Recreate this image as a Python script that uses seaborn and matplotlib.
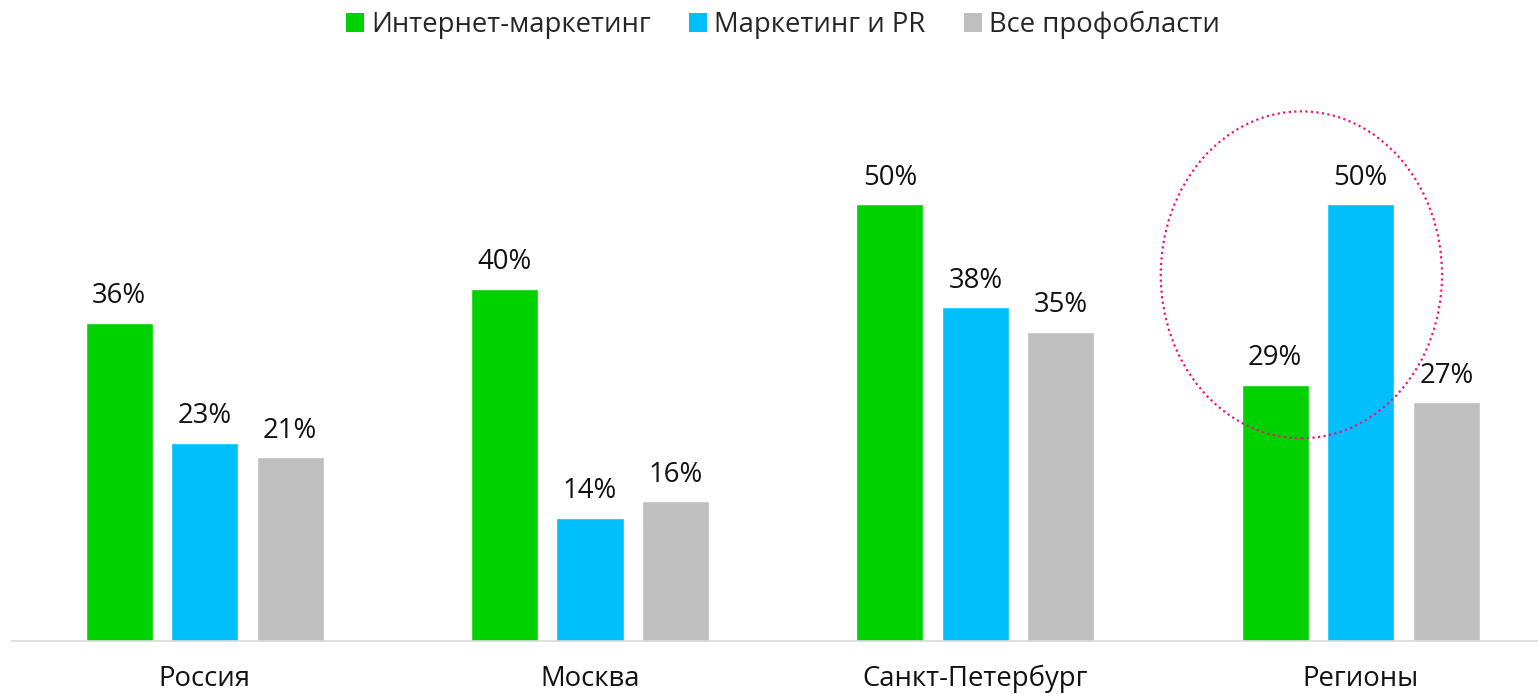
import numpy as np
import pandas as pd
import matplotlib
matplotlib.use("Agg")
import matplotlib.pyplot as plt
import seaborn as sns
from matplotlib.patches import Ellipse, Patch

# Data (labels are rounded)
regions = ['Россия', 'Москва', 'Санкт-Петербург', 'Регионы']
series = ['Интернет-маркетинг', 'Маркетинг и PR', 'Все профобласти']
internet_mkt = [36.4, 40.3, 50.0, 29.3]
mkt_pr = [22.7, 14.1, 38.2, 50.0]
all_areas = [21.0, 16.0, 35.4, 27.3]

COLORS = ['#00D200', '#00BFFA', '#BFBFBF']

df = pd.DataFrame({
    'region': regions * 3,
    'series': np.repeat(series, len(regions)),
    'value': internet_mkt + mkt_pr + all_areas,
})

sns.set_theme(style='white')
plt.rcParams['font.family'] = ['Open Sans', 'DejaVu Sans']
FS = 19.8

fig = plt.figure(figsize=(15.38, 6.94), dpi=100)
ax = fig.add_axes([12 / 1538, 53 / 694, 1526 / 1538, 0.7556])

sns.barplot(data=df, x='region', y='value', hue='series', order=regions,
            hue_order=series, palette=COLORS, width=0.666, gap=0.216,
            legend=False, ax=ax, saturation=1)

for cont in ax.containers:
    for bar in cont:
        h = bar.get_height()
        ax.annotate(f'{h:.0f}%', (bar.get_x() + bar.get_width() / 2, h),
                    xytext=(0, 9), textcoords='offset points',
                    ha='center', va='bottom', fontsize=FS, color='#111111')

ax.set_xlim(-0.5, 3.46)
ax.set_ylim(0, 60)
ax.set_xlabel('')
ax.set_ylabel('')
ax.set_yticks([])
ax.tick_params(axis='x', length=0, pad=17, labelsize=FS, labelcolor='#111111')
for side in ['top', 'right', 'left']:
    ax.spines[side].set_visible(False)
ax.spines['bottom'].set_color('#D9D9D9')
ax.spines['bottom'].set_linewidth(1.2)

# Highlight ellipse around the regions group
ax.add_patch(Ellipse((2.846, 41.9), 0.730, 37.4, fill=False,
                     edgecolor='#F0147C', linestyle=(0, (1, 1.5)),
                     linewidth=1.6, clip_on=False))

handles = [Patch(facecolor=c, edgecolor='none') for c in COLORS]
fig.legend(handles, series, loc='upper center', bbox_to_anchor=(0.509, 1.02),
           ncol=3, frameon=False, fontsize=FS, handlelength=0.65,
           handleheight=0.65, handletextpad=0.25, columnspacing=1.4)

fig.savefig('out.png', dpi=100)
